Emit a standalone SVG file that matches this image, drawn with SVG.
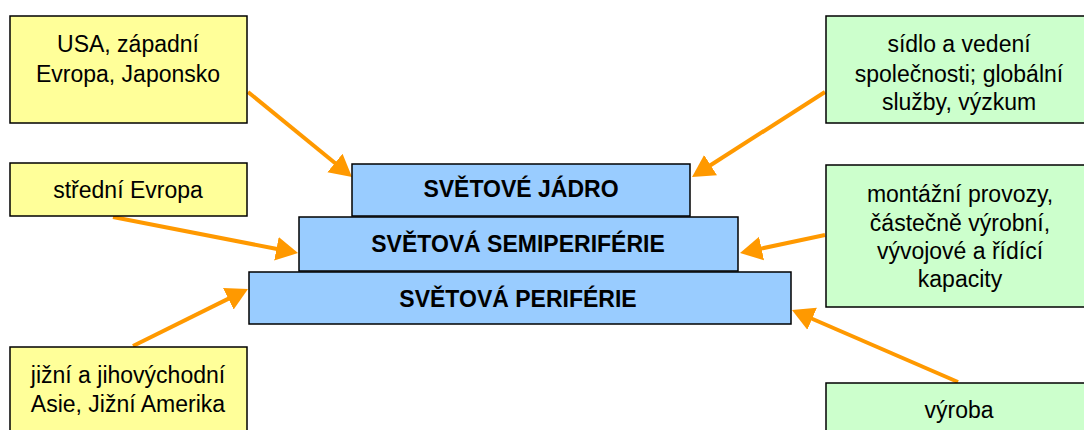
<svg xmlns="http://www.w3.org/2000/svg" width="1084" height="430" viewBox="0 0 1084 430">
<style>
.y{fill:#FFFF99;stroke:#000;stroke-width:1.5}
.g{fill:#CCFFCC;stroke:#000;stroke-width:1.5}
.b{fill:#99CCFF;stroke:#000;stroke-width:1.5}
.t{font-family:"Liberation Sans",Arial,sans-serif;font-size:23px;fill:#000;text-anchor:middle}
.h{font-family:"Liberation Sans",Arial,sans-serif;font-size:23px;font-weight:bold;fill:#000;text-anchor:middle}
.c{stroke:#FF9900;stroke-width:4;fill:none;marker-end:url(#ah)}
</style>
<defs>
<marker id="ah" markerUnits="userSpaceOnUse" viewBox="0 -13 24 26" markerWidth="24" markerHeight="26" refX="2" refY="0" orient="auto">
<path d="M0,-12 L22,0 L0,12 z" fill="#FF9900"/>
</marker>
</defs>
<rect width="1084" height="430" fill="#fff"/>
<g id="connectors">
<line class="c" x1="248" y1="92" x2="336.5" y2="164.3"/>
<line class="c" x1="825" y1="92" x2="708.9" y2="166.2"/>
<line class="c" x1="113" y1="217" x2="278.4" y2="249.2"/>
<line class="c" x1="825" y1="235" x2="759.6" y2="248.9"/>
<line class="c" x1="133" y1="346" x2="230.1" y2="297.9"/>
<line class="c" x1="958" y1="382" x2="810.3" y2="318"/>
</g>
<g id="core">
<rect class="b" x="352" y="164" width="338" height="52"/>
<text class="h" x="521" y="197">SVĚTOVÉ JÁDRO</text>
</g>
<g id="semiperiphery">
<rect class="b" x="299" y="217" width="439" height="54"/>
<text class="h" x="518" y="252">SVĚTOVÁ SEMIPERIFÉRIE</text>
</g>
<g id="periphery">
<rect class="b" x="249" y="272" width="542" height="52"/>
<text class="h" x="518" y="307">SVĚTOVÁ PERIFÉRIE</text>
</g>
<g id="usa">
<rect class="y" x="10" y="16" width="237" height="107"/>
<text class="t" x="128" y="52">USA, západní</text>
<text class="t" x="128" y="82">Evropa, Japonsko</text>
</g>
<g id="stredni">
<rect class="y" x="10" y="163" width="237" height="53"/>
<text class="t" x="128" y="198">střední Evropa</text>
</g>
<g id="asie">
<rect class="y" x="10" y="347" width="237" height="95"/>
<text class="t" x="128" y="383">jižní a jihovýchodní</text>
<text class="t" x="128" y="412">Asie, Jižní Amerika</text>
</g>
<g id="sidlo">
<rect class="g" x="826" y="16" width="270" height="107"/>
<text class="t" x="959" y="52">sídlo a vedení</text>
<text class="t" x="959" y="82">společnosti; globální</text>
<text class="t" x="959" y="110">služby, výzkum</text>
</g>
<g id="montaz">
<rect class="g" x="826" y="165" width="270" height="142"/>
<text class="t" x="960" y="202">montážní provozy,</text>
<text class="t" x="960" y="231">částečně výrobní,</text>
<text class="t" x="960" y="259">vývojové a řídící</text>
<text class="t" x="960" y="287">kapacity</text>
</g>
<g id="vyroba">
<rect class="g" x="826" y="383" width="270" height="60"/>
<text class="t" x="959" y="418">výroba</text>
</g>
</svg>
